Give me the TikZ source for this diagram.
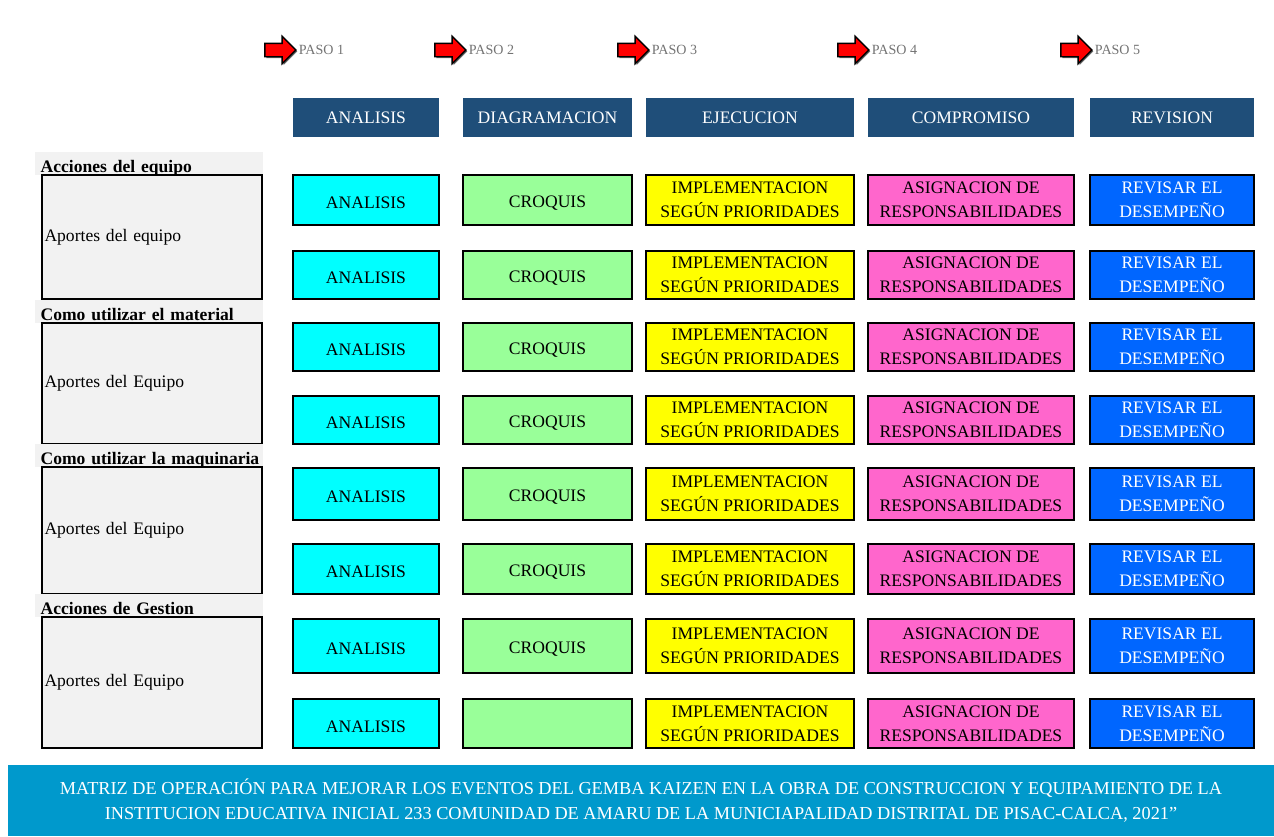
\documentclass[tikz,border=0pt]{standalone}
\usepackage{fontspec}
\setmainfont{Liberation Serif}
\usepackage{tikz}
\usetikzlibrary{positioning, shapes.arrows, shadows}
\definecolor{headblue}{RGB}{31,78,121}
\definecolor{cellcyan}{RGB}{0,255,255}
\definecolor{cellgreen}{RGB}{153,255,153}
\definecolor{cellyellow}{RGB}{255,255,0}
\definecolor{cellpink}{RGB}{255,102,204}
\definecolor{cellblue}{RGB}{0,102,255}
\definecolor{bannerblue}{RGB}{0,153,204}
\definecolor{leftgray}{RGB}{242,242,242}

\begin{document}
\begin{tikzpicture}[
    x=0.02cm, y=-0.02cm,
    head/.style={rectangle, fill=headblue, text=white, inner sep=0pt,
                 minimum height=0.78cm, font=\fontsize{10}{12}\selectfont},
    cell/.style={rectangle, draw, line width=0.8pt, inner sep=0pt, align=center,
                 font=\fontsize{10}{13.5}\selectfont,
                 execute at begin node={\rule{0pt}{10pt}},
                 drop shadow={shadow xshift=0.8pt, shadow yshift=-0.8pt, fill=black!70, opacity=1}},
    group/.style={rectangle, draw, line width=0.8pt, fill=leftgray, inner sep=1pt,
                  minimum width=4.4cm, text width=4.3cm, align=left,
                  font=\fontsize{10}{12}\selectfont},
    grouptitle/.style={rectangle, fill=leftgray, anchor=south west, inner xsep=3pt,
                       inner ysep=1.5pt, text width=4.35cm, align=left, text height=10pt,
                       text depth=0pt, font=\fontsize{10}{12}\selectfont\bfseries},
    pasoarrow/.style={single arrow, draw, line width=0.8pt, fill=red,
                      inner xsep=0pt, inner ysep=0.12cm, minimum height=0.62cm,
                      single arrow head extend=0.14cm,
                      drop shadow={shadow xshift=0.8pt, shadow yshift=-0.8pt, fill=black!60, opacity=1}},
    pasotext/.style={font=\fontsize{8}{9}\selectfont, text=black!55, inner sep=1pt},
    banner/.style={rectangle, fill=bannerblue, text=white, align=center,
                   font=\fontsize{10.4}{14}\selectfont},
]
\useasboundingbox (0,0) rectangle (1274,836);

% pasos
\node[pasoarrow] (s1) at (277,50) {};
\node[pasotext, right=0pt of s1] (p1) {PASO 1};
\node[pasoarrow] (s2) at (447,50) {};
\node[pasotext, right=0pt of s2] (p2) {PASO 2};
\node[pasoarrow] (s3) at (630,50) {};
\node[pasotext, right=0pt of s3] (p3) {PASO 3};
\node[pasoarrow] (s4) at (850,50) {};
\node[pasotext, right=0pt of s4] (p4) {PASO 4};
\node[pasoarrow] (s5) at (1073,50) {};
\node[pasotext, right=0pt of s5] (p5) {PASO 5};

% encabezados
\node[head, minimum width=2.92cm] (hAn) at (366,117.5) {ANALISIS};
\node[head, minimum width=3.38cm] (hDi) at (547.5,117.5) {DIAGRAMACION};
\node[head, minimum width=4.16cm] (hEj) at (750,117.5) {EJECUCION};
\node[head, minimum width=4.12cm] (hCo) at (971,117.5) {COMPROMISO};
\node[head, minimum width=3.28cm] (hRe) at (1172,117.5) {REVISION};

% grupos de la izquierda
\node[grouptitle] (t1) at (35,175) {Acciones del equipo};
\node[group, minimum height=2.48cm] (g1) at (152,237) {Aportes del equipo};
\node[grouptitle] (t2) at (35,323) {Como utilizar el material};
\node[group, minimum height=2.42cm] (g2) at (152,383.5) {Aportes del Equipo};
\node[grouptitle] (t3) at (35,467) {\mbox{Como utilizar la maquinaria}};
\node[group, minimum height=2.54cm] (g3) at (152,530.5) {Aportes del Equipo};
\node[grouptitle] (t4) at (35,617) {Acciones de Gestion};
\node[group, minimum height=2.62cm] (g4) at (152,682.5) {Aportes del Equipo};

% filas de la matriz
\foreach \r/\y/\h/\c in {1/200/50/CROQUIS, 2/275/48/CROQUIS, 3/347/48/CROQUIS,
                         4/420/48/CROQUIS, 5/494/52/CROQUIS, 6/569/50/CROQUIS,
                         7/646/54/CROQUIS, 8/723.5/49/{}} {
  \node[cell, fill=cellcyan, minimum width=2.92cm, minimum height=\h*0.02cm]
      (an\r) at (366,\y) {ANALISIS};
  \node[cell, fill=cellgreen, minimum width=3.38cm, minimum height=\h*0.02cm]
      (cr\r) at (547.5,\y) {\c};
  \node[cell, fill=cellyellow, minimum width=4.16cm, minimum height=\h*0.02cm]
      (im\r) at (750,\y) {IMPLEMENTACION\\SEGÚN PRIORIDADES};
  \node[cell, fill=cellpink, minimum width=4.12cm, minimum height=\h*0.02cm]
      (as\r) at (971,\y) {ASIGNACION DE\\RESPONSABILIDADES};
  \node[cell, fill=cellblue, text=white, minimum width=3.28cm, minimum height=\h*0.02cm]
      (rv\r) at (1172,\y) {REVISAR EL\\DESEMPEÑO};
}

% titulo inferior
\node[banner, minimum width=25.32cm, minimum height=1.42cm] (title) at (641,800.5)
    {MATRIZ DE OPERACIÓN PARA MEJORAR LOS EVENTOS DEL GEMBA KAIZEN EN LA OBRA DE CONSTRUCCION Y EQUIPAMIENTO DE LA\\
     INSTITUCION EDUCATIVA INICIAL 233 COMUNIDAD DE AMARU DE LA MUNICIAPALIDAD DISTRITAL DE PISAC-CALCA, 2021”};
\end{tikzpicture}
\end{document}
